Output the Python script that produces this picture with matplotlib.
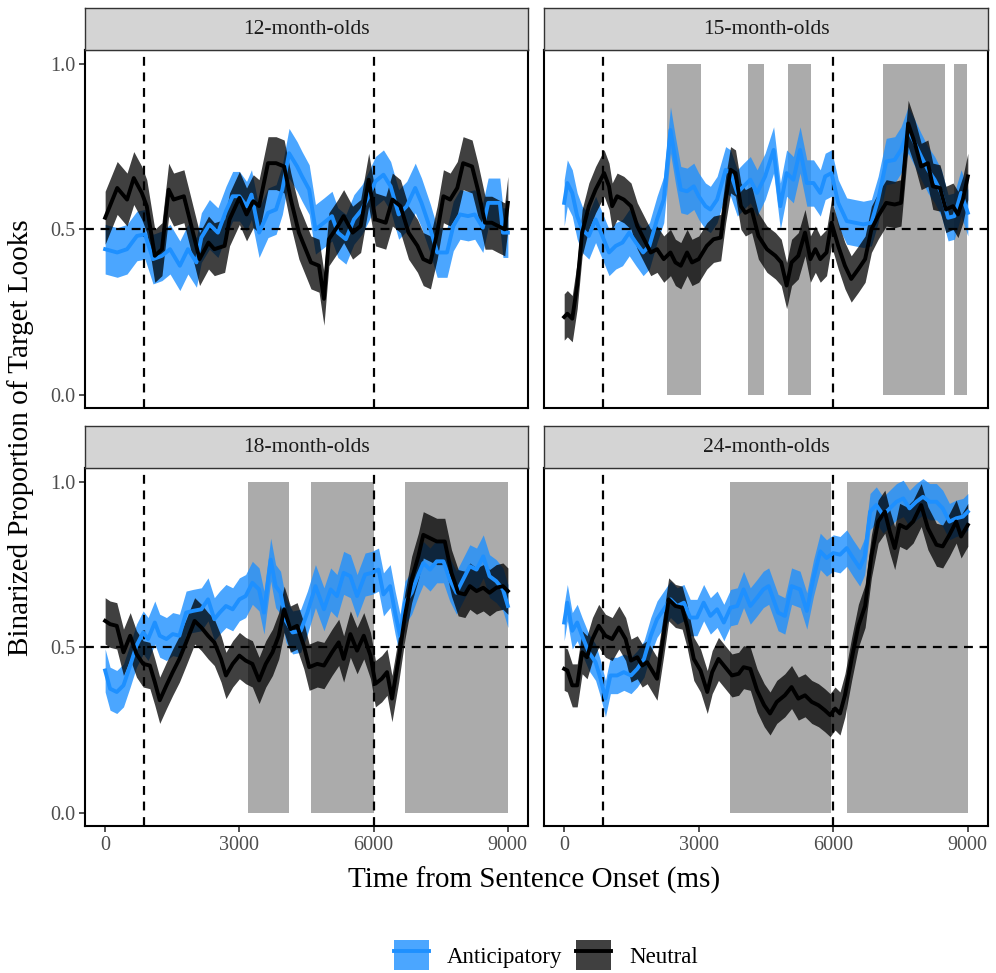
import matplotlib
matplotlib.use("Agg")
import matplotlib.pyplot as plt
from matplotlib.patches import Patch
from matplotlib.lines import Line2D
from matplotlib.legend_handler import HandlerTuple

plt.rcParams["font.family"] = ["Liberation Serif", "DejaVu Serif"]

# ---------------------------------------------------------------------------
# Data
# ---------------------------------------------------------------------------

panels = ["12-month-olds", "15-month-olds", "18-month-olds", "24-month-olds"]

# 12-month-olds
t12_neu = [0, 270, 490, 640, 820, 930, 1110, 1270, 1420, 1530, 1760, 1890, 2110, 2310,
           2440, 2670, 2780, 3000, 3160, 3310, 3440, 3640, 3820, 4000, 4150, 4330, 4450,
           4600, 4780, 4890, 5000, 5200, 5330, 5530, 5710, 5890, 6040, 6270, 6420, 6600,
           6780, 6980, 7110, 7270, 7420, 7560, 7710, 7870, 8000, 8200, 8330, 8490, 8640,
           8780, 8930, 9000]
v12_neu = [.535, .625, .59, .655, .61, .57, .42, .44, .62, .59, .60, .53, .41, .46,
           .44, .45, .53, .595, .545, .585, .57, .70, .70, .69, .59, .49, .45,
           .40, .39, .29, .47, .51, .54, .49, .51, .65, .53, .52, .59, .57,
           .49, .45, .41, .40, .49, .60, .59, .625, .70, .69, .62, .52, .52,
           .51, .50, .58]
t12_ant = [0, 270, 490, 710, 890, 1070, 1270, 1450, 1670, 1850, 2040, 2150, 2330, 2520,
           2700, 2850, 3000, 3160, 3270, 3440, 3640, 3820, 3960, 4110, 4290, 4400, 4560,
           4700, 4890, 5070, 5200, 5380, 5560, 5740, 5890, 6040, 6220, 6380, 6560, 6740,
           6930, 7070, 7270, 7420, 7640, 7780, 7930, 8110, 8260, 8440, 8560, 8820, 8890,
           9000]
v12_ant = [.44, .43, .44, .48, .485, .41, .42, .44, .39, .44, .40, .475, .515, .49,
           .555, .60, .60, .57, .605, .49, .55, .56, .62, .73, .69, .66, .62,
           .50, .52, .54, .49, .47, .53, .56, .60, .645, .665, .63, .545, .57,
           .625, .58, .50, .43, .43, .51, .545, .54, .545, .505, .58, .58, .49,
           .49]

# 15-month-olds
t15_neu = [0, 70, 180, 290, 400, 550, 700, 890, 1000, 1070, 1180, 1330, 1490, 1630,
           1780, 1930, 2070, 2220, 2370, 2480, 2600, 2740, 2850, 3000, 3180, 3330, 3490,
           3600, 3710, 3820, 3940, 4040, 4180, 4330, 4520, 4710, 4840, 4960, 5070, 5220,
           5370, 5490, 5600, 5710, 5850, 5960, 6110, 6260, 6400, 6560, 6710, 6850, 7000,
           7180, 7370, 7510, 7670, 7820, 7960, 8110, 8220, 8380, 8510, 8670, 8780, 8890,
           9000]
v15_neu = [.235, .245, .23, .33, .49, .57, .62, .67, .63, .57, .60, .59, .57, .51,
           .47, .43, .44, .41, .43, .40, .39, .43, .40, .41, .45, .47, .475,
           .59, .68, .67, .57, .55, .56, .48, .44, .42, .40, .33, .40, .42,
           .49, .41, .44, .41, .43, .52, .45, .39, .35, .38, .41, .50, .54,
           .58, .575, .58, .82, .76, .69, .70, .63, .625, .56, .57, .545, .59,
           .66]
t15_ant = [0, 70, 180, 290, 400, 550, 700, 850, 1000, 1150, 1300, 1450, 1600, 1760,
           1900, 2070, 2220, 2370, 2480, 2600, 2740, 2890, 3000, 3150, 3260, 3410, 3600,
           3710, 3860, 4000, 4150, 4300, 4480, 4670, 4820, 4960, 5110, 5260, 5410, 5560,
           5710, 5820, 5960, 6110, 6300, 6480, 6670, 6850, 7000, 7180, 7370, 7510, 7670,
           7820, 7960, 8110, 8260, 8410, 8560, 8700, 8850, 9000]
v15_ant = [.58, .64, .61, .54, .50, .48, .53, .48, .43, .45, .46, .49, .46, .43,
           .45, .53, .59, .80, .71, .62, .615, .63, .60, .57, .56, .59, .68,
           .67, .61, .63, .65, .61, .66, .74, .57, .67, .65, .74, .64, .64,
           .61, .66, .67, .58, .525, .52, .515, .52, .59, .705, .71, .74, .80,
           .76, .72, .68, .65, .61, .535, .54, .61, .55]
shade15 = [(2300, 3050), (4100, 4450), (5000, 5500), (7100, 8500), (8700, 8980)]

# 18-month-olds
t18_neu = [0, 110, 260, 410, 560, 700, 850, 1000, 1110, 1220, 1370, 1510, 1660, 1810,
           2000, 2150, 2300, 2440, 2590, 2700, 2850, 3000, 3140, 3290, 3440, 3590, 3740,
           3880, 4000, 4140, 4290, 4440, 4560, 4740, 4890, 5070, 5220, 5330, 5480, 5630,
           5780, 5930, 6040, 6180, 6300, 6410, 6560, 6700, 6850, 7000, 7110, 7260, 7410,
           7590, 7740, 7890, 8040, 8150, 8300, 8450, 8590, 8740, 8890, 9000]
v18_neu = [.58, .57, .565, .485, .535, .48, .45, .445, .395, .34, .385, .425, .465, .515,
           .58, .56, .535, .515, .465, .415, .45, .475, .46, .45, .40, .45, .485,
           .535, .615, .555, .565, .505, .44, .45, .445, .485, .515, .465, .54, .49,
           .535, .475, .39, .405, .425, .345, .465, .595, .705, .775, .84, .83, .82,
           .82, .725, .665, .66, .685, .67, .68, .665, .68, .685, .67]
t18_ant = [0, 110, 260, 410, 560, 700, 850, 960, 1110, 1220, 1370, 1510, 1660, 1810,
           1960, 2150, 2300, 2440, 2560, 2700, 2850, 3000, 3140, 3290, 3440, 3550, 3700,
           3810, 3920, 4040, 4190, 4370, 4520, 4700, 4890, 5040, 5180, 5330, 5480, 5630,
           5810, 5960, 6110, 6220, 6370, 6480, 6590, 6700, 6850, 7000, 7110, 7260, 7410,
           7560, 7700, 7850, 8000, 8150, 8300, 8450, 8590, 8740, 8890, 9000]
v18_ant = [.43, .375, .365, .385, .445, .505, .545, .525, .575, .535, .525, .54, .535, .605,
           .61, .615, .645, .585, .605, .625, .615, .645, .655, .695, .675, .605, .765,
           .685, .665, .58, .545, .55, .605, .685, .615, .675, .655, .725, .715, .655,
           .72, .725, .735, .66, .685, .605, .535, .635, .665, .72, .755, .735, .76,
           .76, .705, .665, .705, .745, .735, .775, .715, .70, .675, .625]
shade18 = [(3200, 4100), (4600, 6000), (6700, 9000)]

# 24-month-olds
t24_neu = [0, 70, 180, 290, 400, 510, 630, 770, 920, 1070, 1220, 1370, 1490, 1630,
           1740, 1850, 1960, 2070, 2220, 2330, 2480, 2630, 2740, 2890, 3040, 3190, 3300,
           3440, 3590, 3740, 3890, 4000, 4150, 4300, 4460, 4590, 4740, 4920, 5070, 5220,
           5370, 5520, 5670, 5810, 5930, 6040, 6150, 6260, 6410, 6560, 6710, 6850, 7000,
           7150, 7260, 7370, 7480, 7630, 7780, 7960, 8110, 8300, 8440, 8590, 8740, 8850,
           9000]
v24_neu = [.435, .43, .385, .385, .485, .47, .525, .565, .535, .525, .56, .525, .46, .47,
           .445, .455, .43, .405, .54, .645, .625, .62, .565, .465, .43, .365, .425,
           .465, .44, .415, .42, .44, .435, .37, .325, .30, .335, .355, .38, .345,
           .355, .335, .325, .31, .295, .315, .30, .355, .465, .565, .625, .775, .88,
           .91, .85, .80, .87, .86, .88, .93, .86, .81, .805, .84, .88, .835,
           .87]
t24_ant = [0, 70, 180, 290, 400, 550, 700, 810, 920, 1030, 1180, 1330, 1490, 1630,
           1780, 1930, 2070, 2220, 2370, 2520, 2670, 2810, 2960, 3110, 3260, 3410, 3560,
           3710, 3860, 4000, 4150, 4300, 4440, 4560, 4770, 4920, 5070, 5260, 5410, 5560,
           5710, 5850, 6000, 6150, 6300, 6440, 6590, 6700, 6820, 6960, 7110, 7260, 7410,
           7560, 7700, 7850, 8000, 8150, 8300, 8440, 8590, 8740, 8890, 9000]
v24_ant = [.575, .635, .55, .575, .535, .485, .455, .405, .345, .415, .415, .425, .415, .435,
           .465, .535, .585, .615, .645, .625, .635, .59, .59, .635, .595, .615, .575,
           .62, .625, .675, .625, .65, .675, .685, .605, .595, .685, .675, .61, .71,
           .79, .77, .785, .78, .80, .77, .74, .775, .91, .93, .90, .92, .94,
           .95, .92, .94, .955, .94, .94, .92, .88, .89, .895, .91]
shade24 = [(3700, 5950), (6300, 9000)]

series = {
    "12-month-olds": (t12_ant, v12_ant, t12_neu, v12_neu, []),
    "15-month-olds": (t15_ant, v15_ant, t15_neu, v15_neu, shade15),
    "18-month-olds": (t18_ant, v18_ant, t18_neu, v18_neu, shade18),
    "24-month-olds": (t24_ant, v24_ant, t24_neu, v24_neu, shade24),
}
# ribbon half-widths (anticipatory, neutral)
ribbon_se = {
    "12-month-olds": (0.075, 0.08),
    "15-month-olds": (0.07, 0.07),
    "18-month-olds": (0.065, 0.07),
    "24-month-olds": (0.055, 0.065),
}

onset_lines = [860, 6000]

# ---------------------------------------------------------------------------
# Styling
# ---------------------------------------------------------------------------

BLUE = "#1E90FF"
BLACK = "#000000"
SHADE = "#ABABAB"
STRIP = "#D4D4D4"
DASH = (0, (4, 3))

W, H = 996, 973
fig = plt.figure(figsize=(W / 100, H / 100), dpi=100)

# pixel boxes: (left, right, top, bottom)
boxes = [
    (85, 528, 50, 408),
    (544, 988, 50, 408),
    (85, 528, 468, 826),
    (544, 988, 468, 826),
]

for i, (name, box) in enumerate(zip(panels, boxes)):
    l, r, t, b = box
    ax = fig.add_axes([l / W, 1 - b / H, (r - l) / W, (b - t) / H])
    t_ant, v_ant, t_neu, v_neu, shades = series[name]
    se_ant, se_neu = ribbon_se[name]

    for x0, x1 in shades:
        ax.fill_between([x0, x1], 0, 1, color=SHADE, linewidth=0, zorder=1)

    ax.fill_between(t_ant, [v - se_ant for v in v_ant], [v + se_ant for v in v_ant],
                    color=BLUE, alpha=0.8, linewidth=0, zorder=2)
    ax.fill_between(t_neu, [v - se_neu for v in v_neu], [v + se_neu for v in v_neu],
                    color=BLACK, alpha=0.75, linewidth=0, zorder=3)

    ax.axhline(0.5, color="black", linestyle=DASH, linewidth=1.6, zorder=4)
    for x in onset_lines:
        ax.axvline(x, color="black", linestyle=DASH, linewidth=1.6, zorder=4)

    ax.plot(t_ant, v_ant, color=BLUE, linewidth=2.8, zorder=5)
    ax.plot(t_neu, v_neu, color=BLACK, linewidth=2.8, zorder=6)

    ax.set_xlim(-450, 9450)
    ax.set_ylim(-0.04, 1.042)
    ax.set_xticks([0, 3000, 6000, 9000])
    ax.set_yticks([0.0, 0.5, 1.0])
    ax.set_yticklabels(["0.0", "0.5", "1.0"])
    ax.tick_params(length=4, width=1.2, color="#333333", labelsize=14.5,
                   labelcolor="#4D4D4D", pad=3)
    if i < 2:
        ax.tick_params(axis="x", bottom=False, labelbottom=False)
    if i % 2 == 1:
        ax.tick_params(axis="y", left=False, labelleft=False)
    for sp in ax.spines.values():
        sp.set_linewidth(1.5)
        sp.set_color("black")

    # facet strip
    sax = fig.add_axes([l / W, 1 - t / H, (r - l) / W, 42 / H])
    sax.set_facecolor(STRIP)
    sax.set_xticks([])
    sax.set_yticks([])
    for sp in sax.spines.values():
        sp.set_linewidth(1.0)
        sp.set_color("#333333")
    sax.text(0.5, 0.5, name, ha="center", va="center", fontsize=15.5,
             color="#1A1A1A", transform=sax.transAxes)

fig.text(0.536, 1 - 880 / H, "Time from Sentence Onset (ms)", ha="center",
         va="center", fontsize=21)
fig.text(0.021, 1 - 438 / H, "Binarized Proportion of Target Looks", ha="center",
         va="center", rotation=90, fontsize=21)

handles = [
    (Patch(facecolor=BLUE, alpha=0.8, edgecolor="none"),
     Line2D([], [], color=BLUE, linewidth=2.8)),
    (Patch(facecolor=BLACK, alpha=0.75, edgecolor="none"),
     Line2D([], [], color=BLACK, linewidth=2.8)),
]
fig.legend(handles, ["Anticipatory", "Neutral"], loc="center",
           bbox_to_anchor=(546 / W, 1 - 955 / H), ncol=2, frameon=False,
           fontsize=16.5, handlelength=1.5, handleheight=1.6,
           handletextpad=0.8, columnspacing=0.6,
           handler_map={tuple: HandlerTuple(ndivide=1)})

fig.savefig("out.png", dpi=100)
